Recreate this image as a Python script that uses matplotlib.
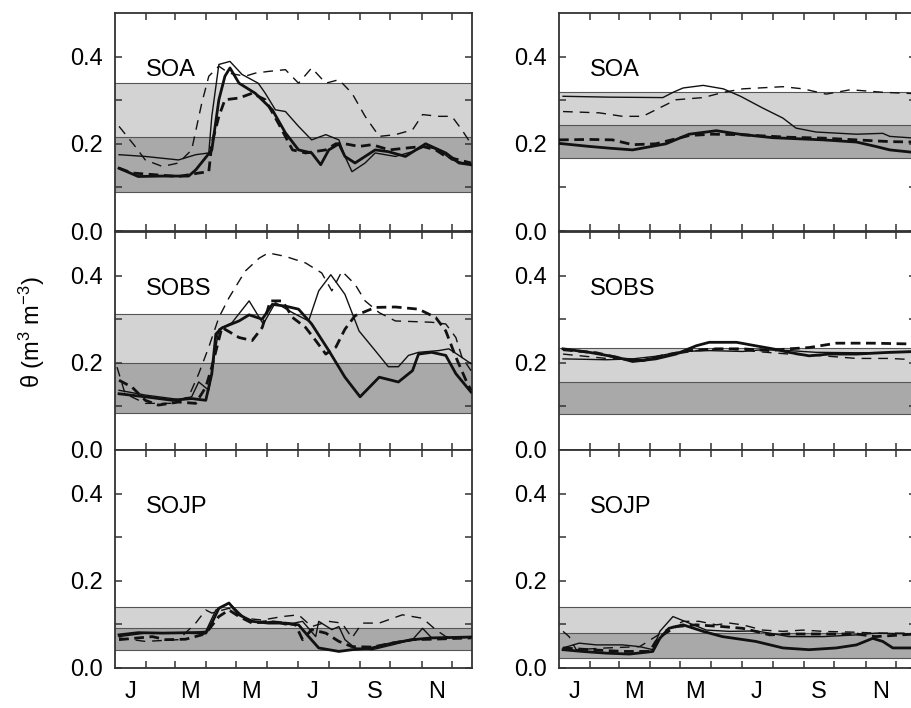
import matplotlib
matplotlib.use("Agg")
import matplotlib.pyplot as plt

plt.rcParams["font.family"] = ["Liberation Sans", "DejaVu Sans"]
plt.rcParams["mathtext.default"] = "regular"
plt.rcParams["lines.scale_dashes"] = False

# panel order: SOA left, SOA right, SOBS left, SOBS right, SOJP left, SOJP right
SITES = ["SOA", "SOA", "SOBS", "SOBS", "SOJP", "SOJP"]
BAND_LOW = [0.090, 0.167, 0.084, 0.083, 0.042, 0.023]
BAND_MID = [0.215, 0.242, 0.199, 0.156, 0.091, 0.081]
BAND_HIGH = [0.340, 0.318, 0.311, 0.233, 0.141, 0.141]

MONTH_START = [31, 59, 90, 120, 151, 181, 212, 243, 273, 304, 334]
MONTH_MID = [15, 74, 135, 196, 258, 319]
MONTH_LABELS = ["J", "M", "M", "J", "S", "N"]

# ---- SOA, left ----
soa_l_thick_day = [4, 23, 47, 73, 80, 96, 103, 109, 114, 123, 139, 156, 169, 182, 195, 204, 212, 222, 228, 238, 258, 271, 288, 308, 328, 341, 353]
soa_l_thick = [.144, .125, .126, .126, .14, .186, .301, .355, .374, .339, .316, .278, .225, .186, .179, .152, .186, .2, .171, .156, .186, .182, .171, .2, .179, .156, .152]
soa_l_thin_day = [4, 30, 63, 80, 93, 96, 103, 114, 126, 142, 149, 159, 169, 182, 195, 209, 222, 228, 235, 248, 258, 278, 295, 308, 321, 334, 353]
soa_l_thin = [.175, .171, .163, .175, .179, .263, .382, .389, .359, .339, .316, .278, .274, .24, .209, .221, .209, .171, .136, .156, .179, .171, .182, .194, .186, .163, .152]
soa_l_tdash_day = [4, 17, 40, 63, 83, 93, 96, 103, 109, 123, 136, 149, 162, 176, 189, 209, 219, 228, 242, 255, 272, 288, 305, 318, 328, 341, 353]
soa_l_tdash = [.144, .133, .129, .125, .133, .136, .2, .263, .301, .305, .316, .301, .247, .186, .179, .186, .2, .2, .194, .198, .186, .19, .194, .186, .171, .163, .156]
soa_l_dash_day = [4, 20, 30, 47, 63, 76, 86, 93, 103, 113, 129, 139, 152, 169, 182, 195, 209, 222, 235, 248, 262, 278, 295, 305, 321, 334, 344, 353]
soa_l_dash = [.24, .194, .163, .148, .156, .186, .293, .355, .378, .362, .355, .362, .366, .37, .339, .374, .339, .347, .316, .263, .217, .221, .232, .267, .263, .263, .232, .2]

# ---- SOA, right ----
soa_r_thick_day = [0, 30, 50, 73, 106, 129, 156, 179, 212, 262, 295, 314, 328, 353]
soa_r_thick = [.201, .194, .19, .186, .2, .222, .23, .222, .214, .209, .204, .194, .186, .18]
soa_r_thin_day = [4, 50, 103, 113, 123, 143, 163, 180, 202, 222, 235, 255, 295, 321, 328, 353]
soa_r_thin = [.309, .307, .306, .318, .328, .334, .326, .309, .282, .259, .236, .227, .222, .224, .217, .213]
soa_r_tdash_day = [0, 30, 53, 73, 96, 129, 152, 179, 228, 262, 295, 328, 353]
soa_r_tdash = [.209, .21, .209, .198, .2, .219, .222, .221, .215, .213, .209, .205, .204]
soa_r_dash_day = [4, 40, 63, 83, 96, 116, 143, 163, 182, 222, 242, 265, 289, 322, 353]
soa_r_dash = [.274, .271, .263, .263, .278, .301, .306, .318, .326, .331, .326, .314, .324, .318, .315]

# ---- SOBS, left ----
sobs_l_thick_day = [4, 30, 57, 76, 90, 96, 100, 106, 123, 133, 146, 156, 169, 182, 195, 212, 228, 243, 262, 281, 295, 301, 314, 328, 338, 353]
sobs_l_thick = [.129, .122, .114, .118, .114, .175, .266, .28, .296, .31, .3, .334, .33, .323, .289, .228, .167, .122, .167, .156, .182, .22, .224, .217, .175, .133]
sobs_l_thin_day = [4, 30, 63, 76, 83, 93, 103, 116, 133, 147, 159, 176, 192, 202, 214, 228, 242, 258, 271, 281, 291, 301, 321, 331, 341, 353]
sobs_l_thin = [.137, .126, .116, .122, .156, .137, .277, .292, .342, .289, .338, .315, .296, .365, .402, .357, .273, .228, .191, .191, .217, .224, .228, .232, .217, .198]
sobs_l_tdash_day = [4, 17, 30, 43, 63, 80, 90, 96, 106, 123, 136, 146, 154, 166, 176, 189, 199, 209, 219, 228, 238, 258, 278, 301, 318, 328, 338, 348, 353]
sobs_l_tdash = [.16, .144, .114, .103, .11, .107, .144, .19, .281, .258, .251, .281, .342, .342, .304, .281, .251, .22, .236, .277, .308, .327, .328, .323, .304, .273, .213, .16, .137]
sobs_l_dash_day = [2, 10, 30, 57, 73, 83, 93, 103, 113, 129, 143, 152, 169, 189, 205, 215, 225, 238, 248, 262, 278, 314, 328, 338, 344, 353]
sobs_l_dash = [.19, .129, .107, .107, .122, .175, .236, .304, .349, .41, .44, .452, .444, .429, .406, .365, .41, .38, .342, .315, .296, .293, .289, .258, .213, .182]

# ---- SOBS, right ----
sobs_r_thick_day = [4, 30, 57, 73, 96, 116, 136, 149, 176, 195, 212, 228, 248, 268, 295, 328, 353]
sobs_r_thick = [.232, .224, .213, .203, .209, .22, .239, .247, .247, .239, .232, .224, .216, .22, .22, .224, .226]
sobs_r_thin_day = [4, 47, 73, 96, 123, 149, 182, 202, 228, 255, 295, 353]
sobs_r_thin = [.209, .207, .209, .215, .226, .228, .226, .23, .228, .224, .223, .224]
sobs_r_tdash_day = [4, 37, 63, 83, 106, 129, 156, 182, 209, 228, 248, 275, 311, 353]
sobs_r_tdash = [.23, .223, .209, .205, .218, .228, .232, .232, .228, .232, .235, .245, .245, .243]
sobs_r_dash_day = [4, 47, 80, 106, 136, 162, 195, 228, 262, 295, 328, 353]
sobs_r_dash = [.22, .21, .207, .216, .228, .233, .226, .22, .216, .21, .21, .207]

# ---- SOJP, left ----
sojp_l_thick_day = [4, 23, 47, 73, 90, 96, 103, 113, 123, 136, 152, 169, 182, 192, 202, 222, 235, 255, 275, 295, 314, 353]
sojp_l_thick = [.076, .081, .08, .081, .08, .103, .137, .149, .122, .107, .103, .103, .099, .072, .046, .038, .042, .046, .057, .065, .069, .071]
sojp_l_thin_day = [4, 30, 63, 90, 100, 113, 129, 143, 156, 169, 186, 199, 202, 215, 222, 228, 238, 255, 275, 295, 305, 314, 353]
sojp_l_thin = [.072, .08, .08, .084, .133, .149, .114, .103, .107, .099, .107, .072, .107, .088, .095, .065, .046, .042, .053, .065, .091, .069, .071]
sojp_l_tdash_day = [4, 23, 37, 50, 70, 86, 93, 103, 113, 123, 136, 152, 169, 179, 186, 195, 209, 222, 235, 255, 275, 295, 314, 353]
sojp_l_tdash = [.065, .069, .072, .065, .066, .076, .088, .118, .133, .118, .103, .107, .103, .099, .065, .088, .08, .061, .049, .048, .057, .065, .066, .069]
sojp_l_dash_day = [4, 30, 63, 80, 90, 96, 113, 129, 146, 166, 182, 195, 212, 225, 235, 245, 262, 285, 305, 318, 328, 353]
sojp_l_dash = [.069, .061, .065, .103, .133, .126, .137, .114, .11, .118, .122, .095, .107, .103, .069, .103, .103, .122, .114, .088, .072, .069]

# ---- SOJP, right ----
sojp_r_thick_day = [4, 23, 47, 70, 86, 93, 100, 109, 123, 143, 162, 195, 222, 248, 275, 295, 311, 321, 331, 353]
sojp_r_thick = [.042, .038, .034, .032, .036, .038, .068, .091, .099, .084, .072, .061, .046, .042, .046, .053, .068, .061, .046, .046]
sojp_r_thin_day = [4, 20, 37, 63, 80, 93, 100, 113, 129, 146, 169, 195, 209, 228, 262, 295, 314, 353]
sojp_r_thin = [.046, .057, .053, .053, .049, .042, .084, .118, .103, .087, .084, .085, .08, .072, .072, .076, .08, .078]
sojp_r_tdash_day = [4, 30, 63, 90, 96, 103, 116, 136, 162, 182, 195, 209, 228, 262, 295, 314, 353]
sojp_r_tdash = [.046, .042, .038, .038, .061, .076, .095, .099, .095, .091, .084, .076, .078, .078, .078, .072, .078]
sojp_r_dash_day = [4, 10, 17, 47, 80, 93, 106, 123, 139, 156, 169, 182, 202, 222, 242, 262, 295, 314, 353]
sojp_r_dash = [.084, .072, .042, .046, .049, .068, .087, .107, .107, .099, .103, .099, .087, .084, .087, .084, .082, .08, .08]

PANELS = [
    [(soa_l_thick_day, soa_l_thick), (soa_l_thin_day, soa_l_thin), (soa_l_tdash_day, soa_l_tdash), (soa_l_dash_day, soa_l_dash)],
    [(soa_r_thick_day, soa_r_thick), (soa_r_thin_day, soa_r_thin), (soa_r_tdash_day, soa_r_tdash), (soa_r_dash_day, soa_r_dash)],
    [(sobs_l_thick_day, sobs_l_thick), (sobs_l_thin_day, sobs_l_thin), (sobs_l_tdash_day, sobs_l_tdash), (sobs_l_dash_day, sobs_l_dash)],
    [(sobs_r_thick_day, sobs_r_thick), (sobs_r_thin_day, sobs_r_thin), (sobs_r_tdash_day, sobs_r_tdash), (sobs_r_dash_day, sobs_r_dash)],
    [(sojp_l_thick_day, sojp_l_thick), (sojp_l_thin_day, sojp_l_thin), (sojp_l_tdash_day, sojp_l_tdash), (sojp_l_dash_day, sojp_l_dash)],
    [(sojp_r_thick_day, sojp_r_thick), (sojp_r_thin_day, sojp_r_thin), (sojp_r_tdash_day, sojp_r_tdash), (sojp_r_dash_day, sojp_r_dash)],
]

# thick solid, thin solid, thick dashed, thin dashed
STYLES = [
    dict(lw=2.0, ls="-"),
    dict(lw=1.0, ls="-"),
    dict(lw=2.0, ls=(0, (7, 4))),
    dict(lw=1.0, ls=(0, (7, 5))),
]

W, H = 911, 708
fig = plt.figure(figsize=(W / 100, H / 100), dpi=100)

col_left = [115, 559]
row_bottom = [231, 450, 668]
panel_w, panel_h = 357, 218
FS = 17

for i, series in enumerate(PANELS):
    row, col = divmod(i, 2)
    x0 = col_left[col] / W
    y0 = 1 - row_bottom[row] / H
    ax = fig.add_axes([x0, y0, panel_w / W, panel_h / H])

    ax.axhspan(BAND_LOW[i], BAND_MID[i], color="#a9a9a9", lw=0, zorder=0)
    ax.axhspan(BAND_MID[i], BAND_HIGH[i], color="#d3d3d3", lw=0, zorder=0)
    for b in (BAND_LOW[i], BAND_MID[i], BAND_HIGH[i]):
        ax.axhline(b, color="#555555", lw=0.8, zorder=1)

    for (d, v), st in zip(series, STYLES):
        ax.plot(d, v, color="#111111", zorder=3, **st)

    ax.text(31, 0.37, SITES[i], fontsize=FS, va="center", ha="left")

    ax.set_xlim(0, 354)
    ax.set_ylim(0, 0.5)
    ax.set_yticks([0, 0.2, 0.4])
    ax.set_yticklabels(["0.0", "0.2", "0.4"])
    ax.set_yticks([0.1, 0.3], minor=True)
    ax.set_xticks(MONTH_START)
    ax.set_xticklabels([])
    if row == 2:
        ax.set_xticks(MONTH_MID, MONTH_LABELS, minor=True)
    ax.tick_params(which="both", direction="in", top=True, right=True,
                   length=5, width=1.1, color="#333333", labelsize=FS, pad=9)
    ax.tick_params(axis="x", which="minor", length=0, pad=9)
    for sp in ax.spines.values():
        sp.set_linewidth(1.3)
        sp.set_color("#333333")

fig.text(32 / W, 1 - 332 / H, "θ (m$^{3}$ m$^{-3}$)", rotation=90,
         fontsize=FS, ha="center", va="center")

fig.savefig("out.png", dpi=100)
